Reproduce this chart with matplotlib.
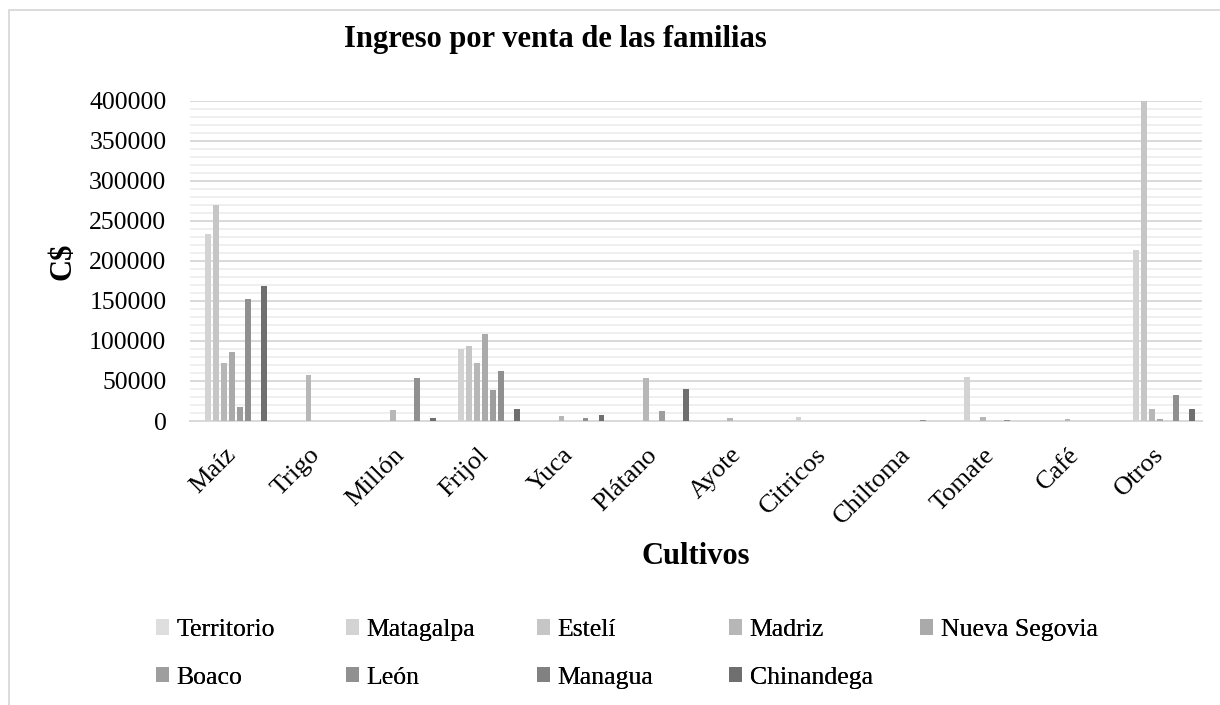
import numpy as np
import matplotlib
matplotlib.use("Agg")
import matplotlib.pyplot as plt
from matplotlib.patches import Rectangle, Patch

plt.rcParams['font.family'] = ['Liberation Serif', 'DejaVu Serif']

cultivos = ["Maíz", "Trigo", "Millón", "Frijol", "Yuca", "Plátano", "Ayote",
            "Citricos", "Chiltoma", "Tomate", "Café", "Otros"]

departamentos = ["Territorio", "Matagalpa", "Estelí", "Madriz", "Nueva Segovia",
                 "Boaco", "León", "Managua", "Chinandega"]

territorio = [0, 0, 0, 0, 0, 0, 0, 0, 0, 0, 0, 0]
matagalpa = [233000, 0, 0, 90000, 0, 0, 0, 4500, 0, 55000, 0, 214000]
esteli = [270000, 0, 0, 94000, 0, 0, 0, 0, 0, 0, 0, 400000]
madriz = [72000, 57000, 13500, 72000, 6000, 53500, 3500, 0, 0, 5000, 2500, 15500]
nueva_segovia = [86000, 0, 0, 109000, 0, 0, 0, 0, 0, 0, 0, 2000]
boaco = [17000, 0, 0, 39000, 0, 13000, 0, 0, 0, 0, 0, 0]
leon = [152000, 0, 54000, 63000, 3500, 0, 0, 0, 1200, 1000, 0, 32000]
managua = [0, 0, 0, 0, 0, 0, 0, 0, 0, 0, 0, 0]
chinandega = [169000, 0, 3500, 15500, 8000, 40000, 0, 0, 0, 0, 0, 14500]

series = [territorio, matagalpa, esteli, madriz, nueva_segovia,
          boaco, leon, managua, chinandega]

colores = ["#DEDEDE", "#D3D3D3", "#C6C6C6", "#B7B7B7", "#AAAAAA",
           "#9E9E9E", "#909090", "#818181", "#6F6F6F"]

W, H = 1220, 705
fig = plt.figure(figsize=(W / 100, H / 100), dpi=100)

# marco del grafico
fig.patches.append(Rectangle((9 / W, -0.1), 1.2, 1 - 10 / H + 0.1,
                             transform=fig.transFigure, fill=False,
                             edgecolor="#D9D9D9", linewidth=1.3))

ax = fig.add_axes([190 / W, 1 - 421 / H, (1202 - 190) / W, (421 - 100.7) / H])

x = np.arange(len(cultivos))
paso = 8 / 84.33
ancho = 5.8 / 84.33
handles = []
for k, (vals, col) in enumerate(zip(series, colores)):
    ax.bar(x + (k - 4) * paso, vals, width=ancho, color=col, zorder=3)
    handles.append(Patch(facecolor=col, edgecolor="none"))

ax.set_xlim(-0.5, len(cultivos) - 0.5)
ax.set_ylim(0, 400000)
ax.set_yticks(np.arange(0, 400001, 50000))
ax.set_yticks(np.arange(0, 400001, 10000), minor=True)
ax.grid(axis="y", which="major", color="#D9D9D9", linewidth=1.4, zorder=0)
ax.grid(axis="y", which="minor", color="#EFEFEF", linewidth=1.4, zorder=0)
ax.set_axisbelow(True)
for s in ["top", "right", "left"]:
    ax.spines[s].set_visible(False)
ax.spines["bottom"].set_color("#D9D9D9")
ax.spines["bottom"].set_linewidth(1.4)
ax.tick_params(axis="both", which="both", length=0)
ax.tick_params(axis="y", labelsize=18.5, pad=17)

ax.set_xticks(x)
ax.set_xticklabels(cultivos, fontsize=19, rotation=45, ha="right",
                   va="center", rotation_mode="anchor")
ax.tick_params(axis="x", pad=22)

ax.set_ylabel("C$", fontsize=22, fontweight="bold")
ax.yaxis.set_label_coords(-(190 - 78) / (1202 - 190), 0.5)
fig.text(696 / W, 1 - 557 / H, "Cultivos", fontsize=22, fontweight="bold",
         ha="center", va="center")
fig.text(555 / W, 1 - 39 / H, "Ingreso por venta de las familias",
         fontsize=22, fontweight="bold", ha="center", va="center")

# leyenda en columnas como en Excel
col_x = [156, 346, 537, 729, 920]
orden = [[0, 5], [1, 6], [2, 7], [3, 8], [4]]
for cx, idx in zip(col_x, orden):
    leg = fig.legend([handles[i] for i in idx], [departamentos[i] for i in idx],
                     loc="upper left", bbox_to_anchor=(cx / W, 1 - 619 / H),
                     frameon=False, fontsize=18.5, handlelength=0.5,
                     handleheight=0.55, handletextpad=0.3, labelspacing=1.0,
                     borderpad=0, borderaxespad=0)
    fig.add_artist(leg)

fig.savefig("out.png", dpi=100)
